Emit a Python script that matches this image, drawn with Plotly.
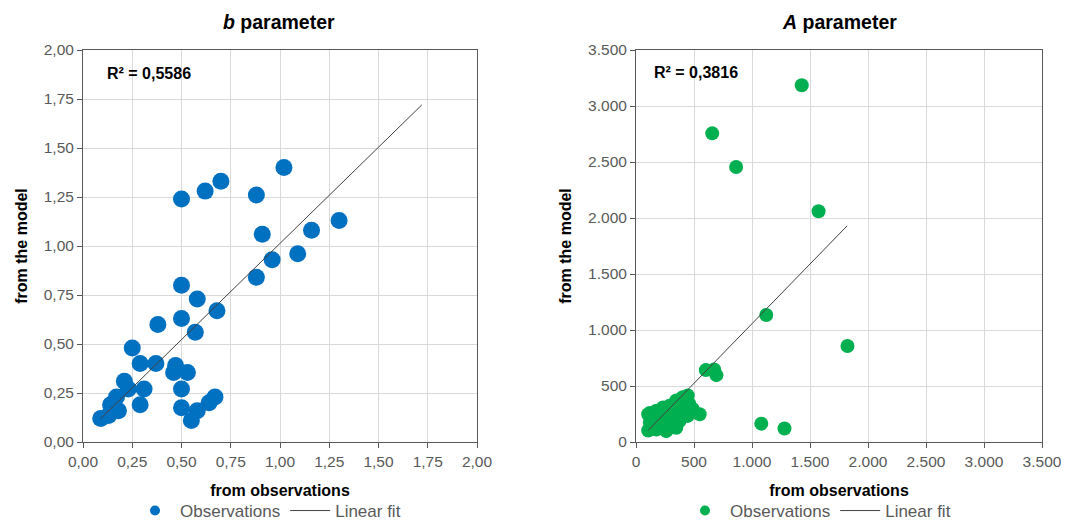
import plotly.graph_objects as go

# ---------------- data: b parameter ----------------
b_obs = [1.02, 0.70, 0.62, 0.88, 0.50, 1.30, 1.16, 0.91, 1.09, 0.96, 0.88,
         0.50, 0.58, 0.68, 0.50, 0.38, 0.57, 0.25, 0.29, 0.37, 0.47, 0.46,
         0.53, 0.50, 0.31, 0.21, 0.23, 0.17, 0.29, 0.18, 0.14, 0.09, 0.13,
         0.50, 0.58, 0.55, 0.64, 0.67]
b_model = [1.40, 1.33, 1.28, 1.26, 1.24, 1.13, 1.08, 1.06, 0.96, 0.93, 0.84,
           0.80, 0.73, 0.67, 0.63, 0.60, 0.56, 0.48, 0.40, 0.40, 0.39, 0.355,
           0.355, 0.27, 0.27, 0.31, 0.27, 0.23, 0.19, 0.16, 0.19, 0.12, 0.135,
           0.175, 0.16, 0.11, 0.20, 0.23]
b_fit_x = [0.09, 1.72]
b_fit_y = [0.12, 1.72]
b_r2 = "R² = 0,5586"

# ---------------- data: A parameter ----------------
A_obs = [1429, 657, 863, 1574, 1123, 1823, 602, 673, 693, 1080, 1280, 549,
         105, 119, 105, 176, 233, 290, 347, 403, 446, 460, 489, 446, 347,
         261, 176, 133, 219, 290, 375, 403, 318, 247, 150, 120]
A_model = [3185, 2756, 2455, 2060, 1134, 857, 642, 648, 597, 164, 120, 248,
           248, 173, 103, 279, 309, 324, 370, 400, 415, 339, 294, 233, 127,
           97, 112, 203, 203, 218, 188, 279, 264, 158, 150, 260]
A_fit_x = [105, 1820]
A_fit_y = [103, 1930]
A_r2 = "R² = 0,3816"

# ---------------- styling ----------------
FONT = "Arial, Liberation Sans, sans-serif"
BLUE = "#0070C0"
GREEN = "#00B050"
GRID = "#D9D9D9"
TICKCOL = "#595959"
LINECOL = "#404040"
W, H = 1065, 523


def px(x):
    return x / W


def py(y):
    return 1 - y / H


y0 = py(442)
y1 = py(50)

fig = go.Figure()

# data traces
fig.add_trace(go.Scatter(x=b_obs, y=b_model, mode="markers", showlegend=False,
                         marker=dict(color=BLUE, size=17, line=dict(width=0)),
                         xaxis="x", yaxis="y"))
fig.add_trace(go.Scatter(x=b_fit_x, y=b_fit_y, mode="lines", showlegend=False,
                         line=dict(color=LINECOL, width=1),
                         xaxis="x", yaxis="y"))
fig.add_trace(go.Scatter(x=A_obs, y=A_model, mode="markers", showlegend=False,
                         marker=dict(color=GREEN, size=14, line=dict(width=0)),
                         xaxis="x2", yaxis="y2"))
fig.add_trace(go.Scatter(x=A_fit_x, y=A_fit_y, mode="lines", showlegend=False,
                         line=dict(color=LINECOL, width=1),
                         xaxis="x2", yaxis="y2"))

# legend entries (no data)
for col, leg, xa, ya in [(BLUE, "legend", "x", "y"), (GREEN, "legend2", "x2", "y2")]:
    fig.add_trace(go.Scatter(x=[None], y=[None], mode="markers", name="Observations",
                             marker=dict(color=col, size=10), legend=leg,
                             xaxis=xa, yaxis=ya))
    fig.add_trace(go.Scatter(x=[None], y=[None], mode="lines", name="Linear fit",
                             line=dict(color=LINECOL, width=1), legend=leg,
                             xaxis=xa, yaxis=ya))

axis_common = dict(showgrid=True, gridcolor=GRID, gridwidth=1, zeroline=False,
                   showline=True, linecolor="#595959", linewidth=1, mirror=True,
                   ticks="outside", ticklen=5, tickcolor="#595959",
                   automargin=False,
                   tickfont=dict(family=FONT, size=15.5, color=TICKCOL))
title_font = dict(family=FONT, size=16, color="#000000")
legend_common = dict(orientation="h", xanchor="center", y=py(511),
                     yanchor="middle", font=dict(family=FONT, size=17, color=TICKCOL),
                     bgcolor="rgba(0,0,0,0)", itemwidth=40, tracegroupgap=0)

fig.update_layout(
    width=W, height=H,
    margin=dict(l=0, r=0, t=0, b=0, autoexpand=False),
    paper_bgcolor="white", plot_bgcolor="white",
    separators=",.",
    font=dict(family=FONT),
    xaxis=dict(domain=[px(83), px(477)], range=[0, 2], dtick=0.25,
               tickformat=".2f", anchor="y",
               title=dict(text="<b>from observations</b>", font=title_font, standoff=16),
               **axis_common),
    yaxis=dict(domain=[y0, y1], range=[0, 2], dtick=0.25, tickformat=".2f",
               anchor="x",
               title=dict(text="<b>from the model</b>", font=title_font, standoff=12),
               **axis_common),
    xaxis2=dict(domain=[px(636), px(1042)], range=[0, 3500], dtick=500,
                tickformat=",d", anchor="y2",
                title=dict(text="<b>from observations</b>", font=title_font, standoff=16),
                **axis_common),
    yaxis2=dict(domain=[y0, y1], range=[0, 3500], dtick=500, tickformat=",d",
                anchor="x2",
                title=dict(text="<b>from the model</b>", font=title_font, standoff=12),
                **axis_common),
    legend=dict(x=px(268), **legend_common),
    legend2=dict(x=px(818), **legend_common),
    annotations=[
        dict(text="<b><i>b</i> parameter</b>", x=px(279), y=py(22),
             xref="paper", yref="paper", showarrow=False,
             xanchor="center", yanchor="middle",
             font=dict(family=FONT, size=19.5, color="#000000")),
        dict(text="<b><i>A</i> parameter</b>", x=px(839), y=py(22),
             xref="paper", yref="paper", showarrow=False,
             xanchor="center", yanchor="middle",
             font=dict(family=FONT, size=19.5, color="#000000")),
        dict(text="<b>" + b_r2 + "</b>", x=0.11, y=1.88, xref="x", yref="y",
             xanchor="left", yanchor="middle", showarrow=False,
             font=dict(family=FONT, size=16, color="#000000")),
        dict(text="<b>" + A_r2 + "</b>", x=140, y=3300, xref="x2", yref="y2",
             xanchor="left", yanchor="middle", showarrow=False,
             font=dict(family=FONT, size=16, color="#000000")),
    ],
)

fig.write_html("out.html",
               config={"displayModeBar": False},
               post_script="document.body.style.margin='0';")
